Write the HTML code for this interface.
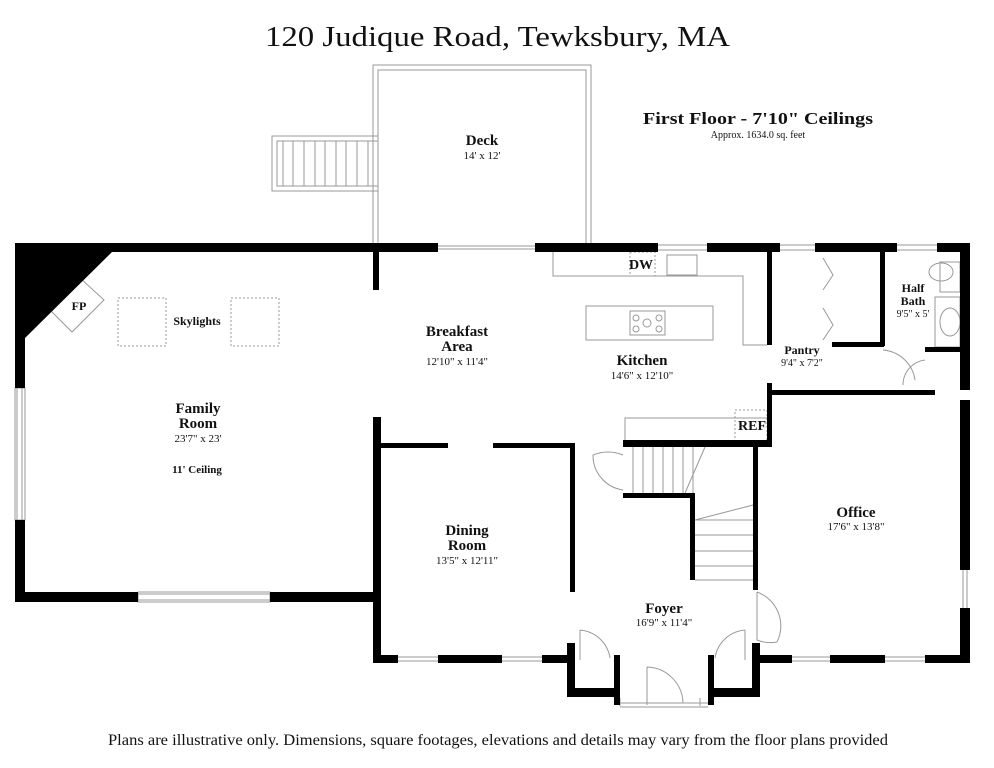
<!DOCTYPE html>
<html><head><meta charset="utf-8"><style>
html,body{margin:0;padding:0;background:#fff;}
svg{display:block;}
text{font-family:"Liberation Serif",serif;fill:#111;}
.b{font-weight:bold;font-size:15px;}
.s{font-size:11px;}
</style></head><body>
<svg width="994" height="768" viewBox="0 0 994 768" xmlns="http://www.w3.org/2000/svg">
<rect width="994" height="768" fill="#fff"/>
<text x="265" y="46" font-size="29" textLength="465" lengthAdjust="spacingAndGlyphs">120 Judique Road, Tewksbury, MA</text>
<text x="643" y="124" font-size="17" font-weight="bold" textLength="230" lengthAdjust="spacingAndGlyphs">First Floor - 7'10" Ceilings</text>
<text x="758" y="138" text-anchor="middle" font-size="10">Approx. 1634.0 sq. feet</text>
<text x="108" y="745" font-size="16" textLength="780" lengthAdjust="spacingAndGlyphs">Plans are illustrative only. Dimensions, square footages, elevations and details may vary from the floor plans provided</text>

<!-- deck -->
<g fill="none" stroke="#999" stroke-width="1">
<path d="M373 243 V65 H591 V243"/><path d="M378 243 V70 H586 V243"/>
<rect x="272" y="136" width="106" height="55"/><rect x="277" y="141" width="101" height="45"/>
<path d="M283 141v45M293 141v45M304 141v45M315 141v45M325 141v45M336 141v45M346 141v45M357 141v45M368 141v45"/>
<path d="M438 246H535M438 249H535"/>
</g>
<text x="482" y="145" text-anchor="middle" class="b">Deck</text>
<text x="482" y="159" text-anchor="middle" class="s">14' x 12'</text>

<g fill="none" stroke="#999" stroke-width="1">
<path d="M553 252V276H743V345H767"/>
<rect x="586" y="306" width="127" height="34"/>
<rect x="630" y="311" width="35" height="24"/>
<circle cx="636" cy="318" r="3"/><circle cx="659" cy="318" r="3"/><circle cx="636" cy="329" r="3"/><circle cx="659" cy="329" r="3"/><circle cx="647" cy="323" r="4"/>
<rect x="630" y="252" width="25" height="24" stroke-dasharray="2 2"/>
<rect x="667" y="255" width="30" height="20"/>
<rect x="735" y="410" width="32" height="32" stroke-dasharray="2 2"/>
<path d="M625 440V418H767"/>
<path d="M633 447V493M643 447V493M653 447V493M663 447V493M673 447V493M683 447V493M693 447V493 M705 447 L685 493"/>
<path d="M695 520H753M695 535H753M695 551H753M695 566H753M695 580H753M695 520 L753 505"/>
<path d="M623 455 A40 40 0 0 0 593 455 A35 35 0 0 0 623 490"/>
<path d="M118 298h48v48h-48z" stroke-dasharray="2 2"/><path d="M231 298h48v48h-48z" stroke-dasharray="2 2"/>
<path d="M47 307 L79 277 L104 300 L72 332 Z"/>
<path d="M823 258 L833 275 L823 290 M823 340 L833 325 L823 308"/>
<path d="M883 350 A35 35 0 0 1 915 380 M903 385 A25 25 0 0 1 925 360"/>
<path d="M940 262h20v30h-20z"/><ellipse cx="941" cy="272" rx="12" ry="9"/>
<path d="M935 297h25v50h-25z"/><ellipse cx="950" cy="322" rx="10" ry="14"/>
<path d="M757 592 A36 36 0 0 1 777 642 M757 592 V640 A36 36 0 0 0 777 642"/>
<path d="M580 630 A33 33 0 0 1 610 658 M580 630V660"/>
<path d="M745 630 A33 33 0 0 0 715 658 M745 630V660"/>
<path d="M647 667 A37 37 0 0 1 683 703 M647 667V705 M620 703H708 M620 707H708"/>
<path d="M138 594H270M138 600H270M17 388V520M22 388V520M398 657H438M398 661H438M502 657H542M502 661H542M792 657H830M792 661H830M885 657H925M885 661H925M963 570V608M967 570V608M658 245H707M658 250H707M780 245H815M780 250H815M897 245H937M897 250H937M620 698V706M700 698V706"/>
<rect x="138" y="592" width="132" height="10"/><rect x="15" y="388" width="10" height="132"/>
</g>

<g fill="#000">
<rect x="15" y="243" width="423" height="9"/>
<rect x="535" y="243" width="123" height="9"/><rect x="707" y="243" width="73" height="9"/><rect x="815" y="243" width="82" height="9"/><rect x="937" y="243" width="33" height="9"/>
<rect x="960" y="243" width="10" height="147"/><rect x="960" y="400" width="10" height="170"/><rect x="960" y="608" width="10" height="55"/>
<rect x="15" y="243" width="10" height="145"/><rect x="15" y="520" width="10" height="82"/>
<rect x="15" y="592" width="123" height="10"/><rect x="270" y="592" width="110" height="10"/>
<polygon points="25,252 112,252 25,338"/>
<rect x="373" y="252" width="6" height="38"/>
<rect x="373" y="417" width="8" height="246"/>
<rect x="378" y="443" width="70" height="5"/><rect x="493" y="443" width="81" height="5"/>
<rect x="570" y="443" width="5" height="149"/>
<rect x="381" y="655" width="17" height="8"/><rect x="438" y="655" width="64" height="8"/><rect x="542" y="655" width="33" height="8"/>
<rect x="567" y="643" width="8" height="54"/><rect x="567" y="688" width="53" height="9"/><rect x="614" y="655" width="6" height="50"/>
<rect x="708" y="655" width="6" height="50"/><rect x="708" y="688" width="52" height="9"/><rect x="752" y="643" width="8" height="54"/>
<rect x="752" y="655" width="40" height="8"/><rect x="830" y="655" width="55" height="8"/><rect x="925" y="655" width="45" height="8"/>
<rect x="767" y="252" width="5" height="93"/><rect x="767" y="383" width="5" height="64"/>
<rect x="623" y="440" width="149" height="7"/>
<rect x="772" y="390" width="163" height="5"/>
<rect x="753" y="445" width="5" height="145"/>
<rect x="880" y="252" width="5" height="94"/><rect x="832" y="342" width="52" height="5"/>
<rect x="925" y="347" width="35" height="5"/>
<rect x="623" y="493" width="72" height="5"/><rect x="690" y="493" width="5" height="87"/>
</g>

<text x="79" y="310" text-anchor="middle" font-size="12" font-weight="bold">FP</text>
<text x="197" y="325" text-anchor="middle" font-size="12" font-weight="bold">Skylights</text>
<text x="198" y="413" text-anchor="middle" class="b">Family</text>
<text x="198" y="428" text-anchor="middle" class="b">Room</text>
<text x="198" y="442" text-anchor="middle" class="s">23'7" x 23'</text>
<text x="197" y="473" text-anchor="middle" font-size="11" font-weight="bold">11' Ceiling</text>
<text x="457" y="336" text-anchor="middle" class="b">Breakfast</text>
<text x="457" y="351" text-anchor="middle" class="b">Area</text>
<text x="457" y="365" text-anchor="middle" class="s">12'10" x 11'4"</text>
<text x="642" y="365" text-anchor="middle" class="b">Kitchen</text>
<text x="642" y="379" text-anchor="middle" class="s">14'6" x 12'10"</text>
<text x="641" y="269" text-anchor="middle" font-size="14" font-weight="bold">DW</text>
<text x="752" y="430" text-anchor="middle" font-size="14" font-weight="bold">REF</text>
<text x="802" y="354" text-anchor="middle" font-size="12" font-weight="bold">Pantry</text>
<text x="802" y="366" text-anchor="middle" font-size="10">9'4" x 7'2"</text>
<text x="913" y="292" text-anchor="middle" font-size="12" font-weight="bold">Half</text>
<text x="913" y="305" text-anchor="middle" font-size="12" font-weight="bold">Bath</text>
<text x="913" y="317" text-anchor="middle" font-size="10">9'5" x 5'</text>
<text x="467" y="535" text-anchor="middle" class="b">Dining</text>
<text x="467" y="550" text-anchor="middle" class="b">Room</text>
<text x="467" y="564" text-anchor="middle" class="s">13'5" x 12'11"</text>
<text x="856" y="517" text-anchor="middle" class="b">Office</text>
<text x="856" y="530" text-anchor="middle" class="s">17'6" x 13'8"</text>
<text x="664" y="613" text-anchor="middle" class="b">Foyer</text>
<text x="664" y="626" text-anchor="middle" class="s">16'9" x 11'4"</text>
</svg>
</body></html>
